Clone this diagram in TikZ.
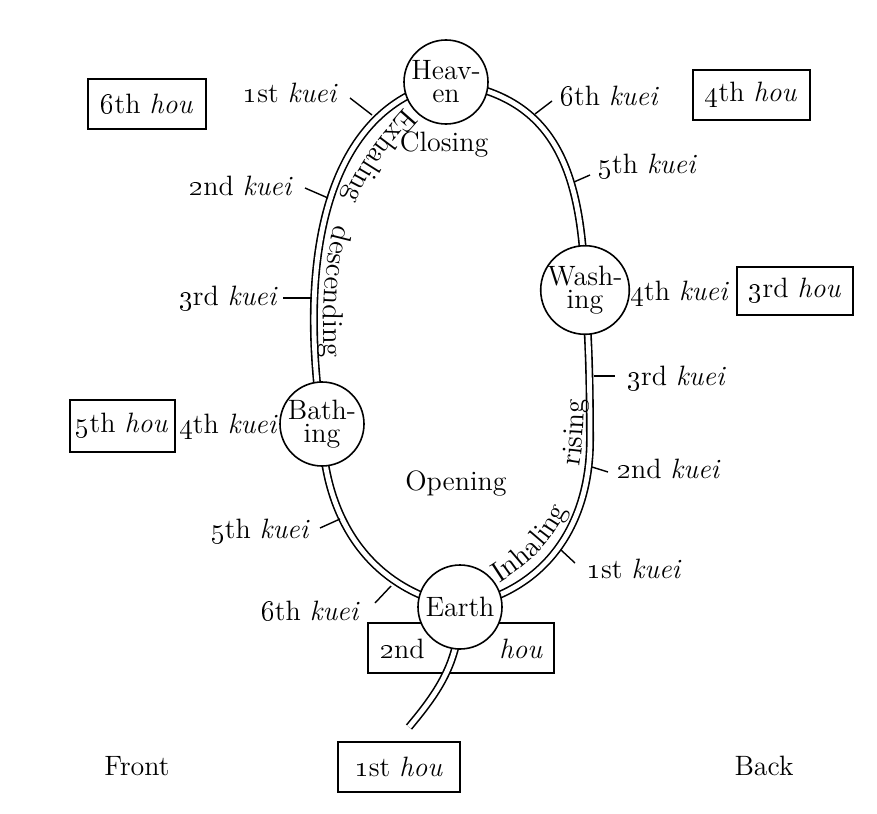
\documentclass[tikz,border=0pt]{standalone}
\usetikzlibrary{decorations.text}
\newcommand\osn[1]{\oldstylenums{#1}}
\begin{document}
\begin{tikzpicture}[x=0.5pt,y=-0.5pt,
  font=\fontsize{14}{11.5}\selectfont,
  strand/.style={draw=black, double=white, line width=0.8pt, double distance=2.4pt},
  hbox/.style={draw, line width=1pt, inner sep=0pt, minimum height=25pt},
  stage/.style={circle, draw, fill=white, line width=0.8pt, inner sep=0pt,
    minimum size=42pt, align=center},
  tickline/.style={line width=0.7pt},
  lab/.style={inner sep=0pt}]
\fill[white] (0,0) rectangle (877,813);
\useasboundingbox (0,0) rectangle (877,813);
% centres
\coordinate (heavenC) at (446,82);
\coordinate (washC) at (585,290);
\coordinate (bathC) at (322,424);
\coordinate (earthC) at (460,607);
\coordinate (rightM) at (590,440);
% hou boxes
\node[hbox, minimum width=59pt] (hou6) at (147,104) {\osn{6}th \textit{hou}};
\node[hbox, minimum width=58.5pt] (hou4) at (751,95) {\osn{4}th \textit{hou}};
\node[hbox, minimum width=58pt, minimum height=24pt] (hou3) at (795,291) {\osn{3}rd \textit{hou}};
\node[hbox, minimum width=52.5pt, minimum height=26pt] (hou5) at (122,426) {\osn{5}th \textit{hou}};
\node[hbox, minimum width=93pt] (hou2) at (461,648) {};
\node[hbox, minimum width=61pt] (hou1) at (399,767) {\osn{1}st \textit{hou}};
\node[lab, anchor=base west] (hou2a) at (380,658) {\osn{2}nd};
\node[lab, anchor=base east] (hou2b) at (543,658) {\textit{hou}};
% the loop
\draw[strand] (heavenC) .. controls (335,105) and (295,240) .. (bathC)
  .. controls (322,505) and (360,588) .. (earthC)
  .. controls (550,590) and (590,520) .. (rightM)
  .. controls (590,370) and (588,330) .. (washC)
  .. controls (582,170) and (555,95) .. (heavenC);
% the tail
\coordinate (tailEnd) at (409,727);
\draw[strand] (earthC) .. controls (460,660) and (440,690) .. (tailEnd);
% stages
\node[stage] (heaven) at (heavenC) {Heav-\\en};
\node[stage] (wash) at (washC) {Wash-\\ing};
\node[stage] (bath) at (bathC) {Bath-\\ing};
\node[stage] (earth) at (earthC) {Earth};
% inner words
\node[lab, anchor=base] (closing) at (444,151) {Closing};
\node[lab, anchor=base] (opening) at (456,490) {Opening};
\coordinate (exA) at (405,108);
\coordinate (exB) at (324,358);
\coordinate (inA) at (499,583);
\coordinate (inB) at (584,399);
\path[decorate, decoration={text along path, text align={fit to path stretching spaces},
  text={|\fontsize{14.5}{14.5}\selectfont|Exhaling descending}}]
  (exA) .. controls (331,189) and (321,248) .. (exB);
\path[decorate, decoration={text along path, text align={fit to path stretching spaces},
  text={|\fontsize{14.5}{14.5}\selectfont|Inhaling rising}}]
  (inA) .. controls (568,540) and (584,490) .. (inB);
% kuei labels, left
\node[lab, anchor=base east] (lk1) at (338,103) {\osn{1}st \textit{kuei}};
\node[lab, anchor=base east] (lk2) at (293,195) {\osn{2}nd \textit{kuei}};
\node[lab, anchor=base east] (lk3) at (278,305) {\osn{3}rd \textit{kuei}};
\node[lab, anchor=base east] (lk4) at (278,433) {\osn{4}th \textit{kuei}};
\node[lab, anchor=base east] (lk5) at (310,538) {\osn{5}th \textit{kuei}};
\node[lab, anchor=base east] (lk6) at (360,620) {\osn{6}th \textit{kuei}};
% kuei labels, right
\node[lab, anchor=base west] (rk6) at (560,105) {\osn{6}th \textit{kuei}};
\node[lab, anchor=base west] (rk5) at (598,173) {\osn{5}th \textit{kuei}};
\node[lab, anchor=base west] (rk4) at (630,300) {\osn{4}th \textit{kuei}};
\node[lab, anchor=base west] (rk3) at (627,385) {\osn{3}rd \textit{kuei}};
\node[lab, anchor=base west] (rk2) at (617,478) {\osn{2}nd \textit{kuei}};
\node[lab, anchor=base west] (rk1) at (587,578) {\osn{1}st \textit{kuei}};
% ticks
\draw[tickline] (350,98) -- (372,115);
\draw[tickline] (305,188) -- (328,198);
\draw[tickline] (283,298) -- (312,298);
\draw[tickline] (320,528) -- (340,519);
\draw[tickline] (375,603) -- (391,586);
\draw[tickline] (535,114) -- (552,101);
\draw[tickline] (574,182) -- (590,175);
\draw[tickline] (594,376) -- (615,376);
\draw[tickline] (592,467) -- (608,472);
\draw[tickline] (561,550) -- (575,563);
% front / back
\node[lab, anchor=base] (front) at (137,775) {Front};
\node[lab, anchor=base] (back) at (764,775) {Back};
\end{tikzpicture}
\end{document}
